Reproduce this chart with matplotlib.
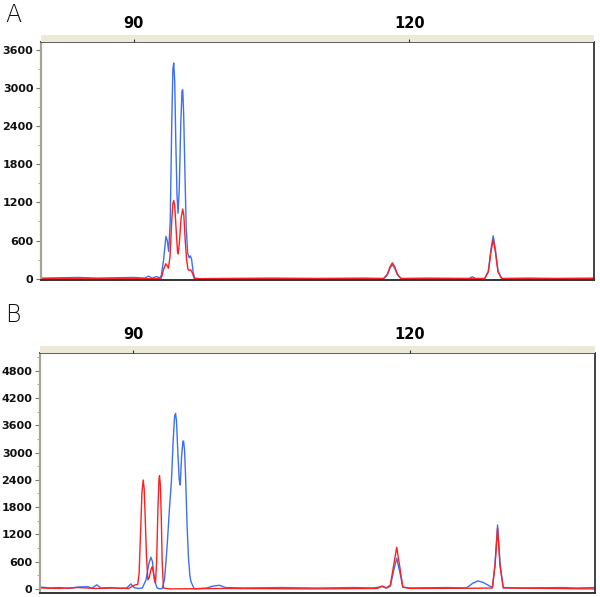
import matplotlib
matplotlib.use("Agg")
import matplotlib.pyplot as plt
from matplotlib.ticker import MultipleLocator

# ---- panel A traces (size units, RFU) ----
a_blue_x = [80, 82, 84, 86, 88, 90, 91.2, 91.6, 92.0, 92.5, 92.8, 93.0, 93.25, 93.5, 93.65,
            93.8, 93.97, 94.13, 94.26, 94.35, 94.46, 94.57, 94.71, 94.82, 94.95, 95.11, 95.25,
            95.33, 95.43, 95.58, 95.71, 95.87, 96.03, 96.16, 96.3, 96.47, 96.63, 97.2, 100, 105,
            110, 115, 117.2, 117.6, 117.9, 118.15, 118.4, 118.7, 119.1, 122, 126.5, 126.85,
            127.2, 128.2, 128.6, 128.9, 129.13, 129.35, 129.65, 130.05, 133, 136, 140]
a_blue_y = [10, 15, 20, 10, 15, 20, 10, 40, 10, 35, 10, 50, 300, 665, 600,
            430, 900, 2400, 3300, 3390, 3100, 2200, 1300, 1030, 1400, 2400, 2950,
            2970, 2600, 1600, 800, 400, 330, 360, 300, 100, 10, 0, 5, 10,
            5, 10, 5, 60, 170, 220, 170, 60, 5, 10, 5, 30,
            5, 5, 120, 480, 675, 480, 120, 5, 10, 5, 10]

a_red_x = [80, 90, 92.5, 93.0, 93.25, 93.48, 93.65, 93.77, 93.95, 94.13, 94.26, 94.35, 94.46,
           94.6, 94.76, 94.85, 94.98, 95.15, 95.33, 95.45, 95.6, 95.75, 95.9, 96.05, 96.2,
           96.35, 96.6, 100, 117.2, 117.6, 117.9, 118.15, 118.4, 118.7, 119.1, 128.2, 128.6,
           128.9, 129.13, 129.35, 129.65, 130.05, 140]
a_red_y = [0, 0, 0, 10, 150, 235, 200, 165, 350, 900, 1180, 1230, 1150,
           800, 430, 390, 600, 950, 1095, 1000, 600, 300, 150, 130, 140,
           100, 0, 0, 0, 70, 190, 250, 190, 70, 0, 0, 110,
           440, 610, 440, 110, 0, 0]

# ---- panel B traces ----
b_blue_x = [80, 81, 82, 83, 84, 85.11, 85.5, 86.05, 86.5, 87.5, 88.5, 89.3, 89.75, 90.1,
            90.5, 91.0, 91.4, 91.7, 91.92, 92.1, 92.3, 92.6, 92.9, 93.15, 93.4, 93.6, 93.73,
            93.95, 94.16, 94.35, 94.5, 94.6, 94.7, 94.85, 95.0, 95.11, 95.25, 95.4, 95.47,
            95.58, 95.7, 95.85, 96.0, 96.15, 96.27, 96.63, 98,
            98.6, 99.35, 100, 102, 106, 110, 114, 116, 117.03, 117.5, 117.9, 118.2, 118.59,
            118.95, 119.25, 120, 124, 126.16, 126.8, 127.4, 128.0, 128.7, 128.99, 129.25,
            129.53, 129.8, 130.14, 132, 136.6, 138, 140]
b_blue_y = [40, 20, 30, 10, 40, 50, 10, 90, 20, 30, 10, 20, 110, 30,
            10, 20, 200, 550, 697, 600, 200, 20, 0, 10, 200, 700, 1077,
            1800, 2400, 3300, 3800, 3860, 3700, 3000, 2400, 2286, 2900, 3250, 3253,
            3050, 2400, 1400, 700, 300, 160, 0, 20,
            60, 80, 30, 20, 30, 20, 30, 20, 50, 20, 60, 350, 675,
            350, 40, 20, 30, 20, 120, 176, 140, 60, 30, 550,
            1407, 550, 30, 20, 30, 20, 30]

b_red_x = [80, 82, 84, 86, 88, 89.5, 90.1, 90.5, 90.65, 90.8, 90.95, 91.09, 91.2, 91.32, 91.45,
           91.6, 91.75, 91.92, 92.07, 92.25, 92.42, 92.55, 92.68, 92.8, 92.86, 92.95, 93.05,
           93.15, 93.29, 94, 100, 110,
           116.5, 117.03, 117.4, 117.9, 118.2, 118.59, 118.95, 119.25, 120, 127, 128.95,
           129.25, 129.53, 129.8, 130.15, 135, 140]
b_red_y = [20, 10, 30, 10, 20, 10, 80, 100, 350, 1200, 2100, 2396, 2200, 1500, 700,
           200, 250, 420, 490, 300, 125, 600, 1700, 2400, 2490, 2300, 1600,
           600, 20, 0, 10, 0,
           10, 66, 20, 80, 450, 916, 450, 40, 10, 15, 20,
           500, 1340, 500, 20, 10, 0]

size_ticks = [90, 120]
a_ylim = (-20, 3720)
b_ylim = (-90, 5190)

BLUE = '#3d6ff0'
RED = '#ff1f1f'
STRIP = '#ece9d8'

fig = plt.figure(figsize=(6, 5.97), dpi=100)


def panel(bottom, height, strip_bottom, left, width, ylim, blue, red, letter, letter_y):
    ax = fig.add_axes([left, bottom, width, height])
    ax.plot(blue[0], blue[1], color=BLUE, lw=1.0)
    ax.plot(red[0], red[1], color=RED, lw=1.0)
    ax.set_xlim(79.9, 140.1)
    ax.set_ylim(*ylim)
    ax.xaxis.set_visible(False)
    ax.yaxis.set_major_locator(MultipleLocator(600))
    ax.yaxis.set_minor_locator(MultipleLocator(300))
    ax.set_yticks([v for v in range(0, int(ylim[1]), 600)])
    ax.tick_params(axis='y', which='major', length=3.5, color='#777777', pad=2,
                   labelsize=8.0, labelcolor='#111111')
    ax.tick_params(axis='y', which='minor', length=2.5, color='#999999')
    for lab in ax.get_yticklabels():
        lab.set_fontweight('bold')
    ax.spines['left'].set_color('#a5a595')
    ax.spines['left'].set_linewidth(1.6)
    ax.spines['bottom'].set_color('#333333')
    ax.spines['bottom'].set_linewidth(1.4)
    ax.spines['right'].set_color('#222222')
    ax.spines['right'].set_linewidth(1.2)
    ax.spines['top'].set_color('#444444')
    ax.spines['top'].set_linewidth(1.2)

    st = fig.add_axes([left, strip_bottom, width, 0.011])
    st.set_facecolor(STRIP)
    st.set_xlim(79.9, 140.1)
    st.set_yticks([])
    st.set_xticks(size_ticks)
    st.set_xticklabels([str(t) for t in size_ticks], fontsize=10.5, fontweight='bold')
    st.tick_params(axis='x', top=False, bottom=True, labeltop=True, labelbottom=False,
                   direction='in', length=2.5, color='#333333', pad=3)
    for s in st.spines.values():
        s.set_visible(False)

    fig.text(0.008, letter_y, letter, fontsize=17, fontweight='light', color='#111111',
             va='top', ha='left')


panel(0.531, 0.3986, 0.9296, 0.0683, 0.9217, a_ylim, (a_blue_x, a_blue_y),
      (a_red_x, a_red_y), 'A', 0.995)
panel(0.0067, 0.402, 0.4087, 0.0667, 0.925, b_ylim, (b_blue_x, b_blue_y),
      (b_red_x, b_red_y), 'B', 0.492)

fig.savefig('out.png', dpi=100)
